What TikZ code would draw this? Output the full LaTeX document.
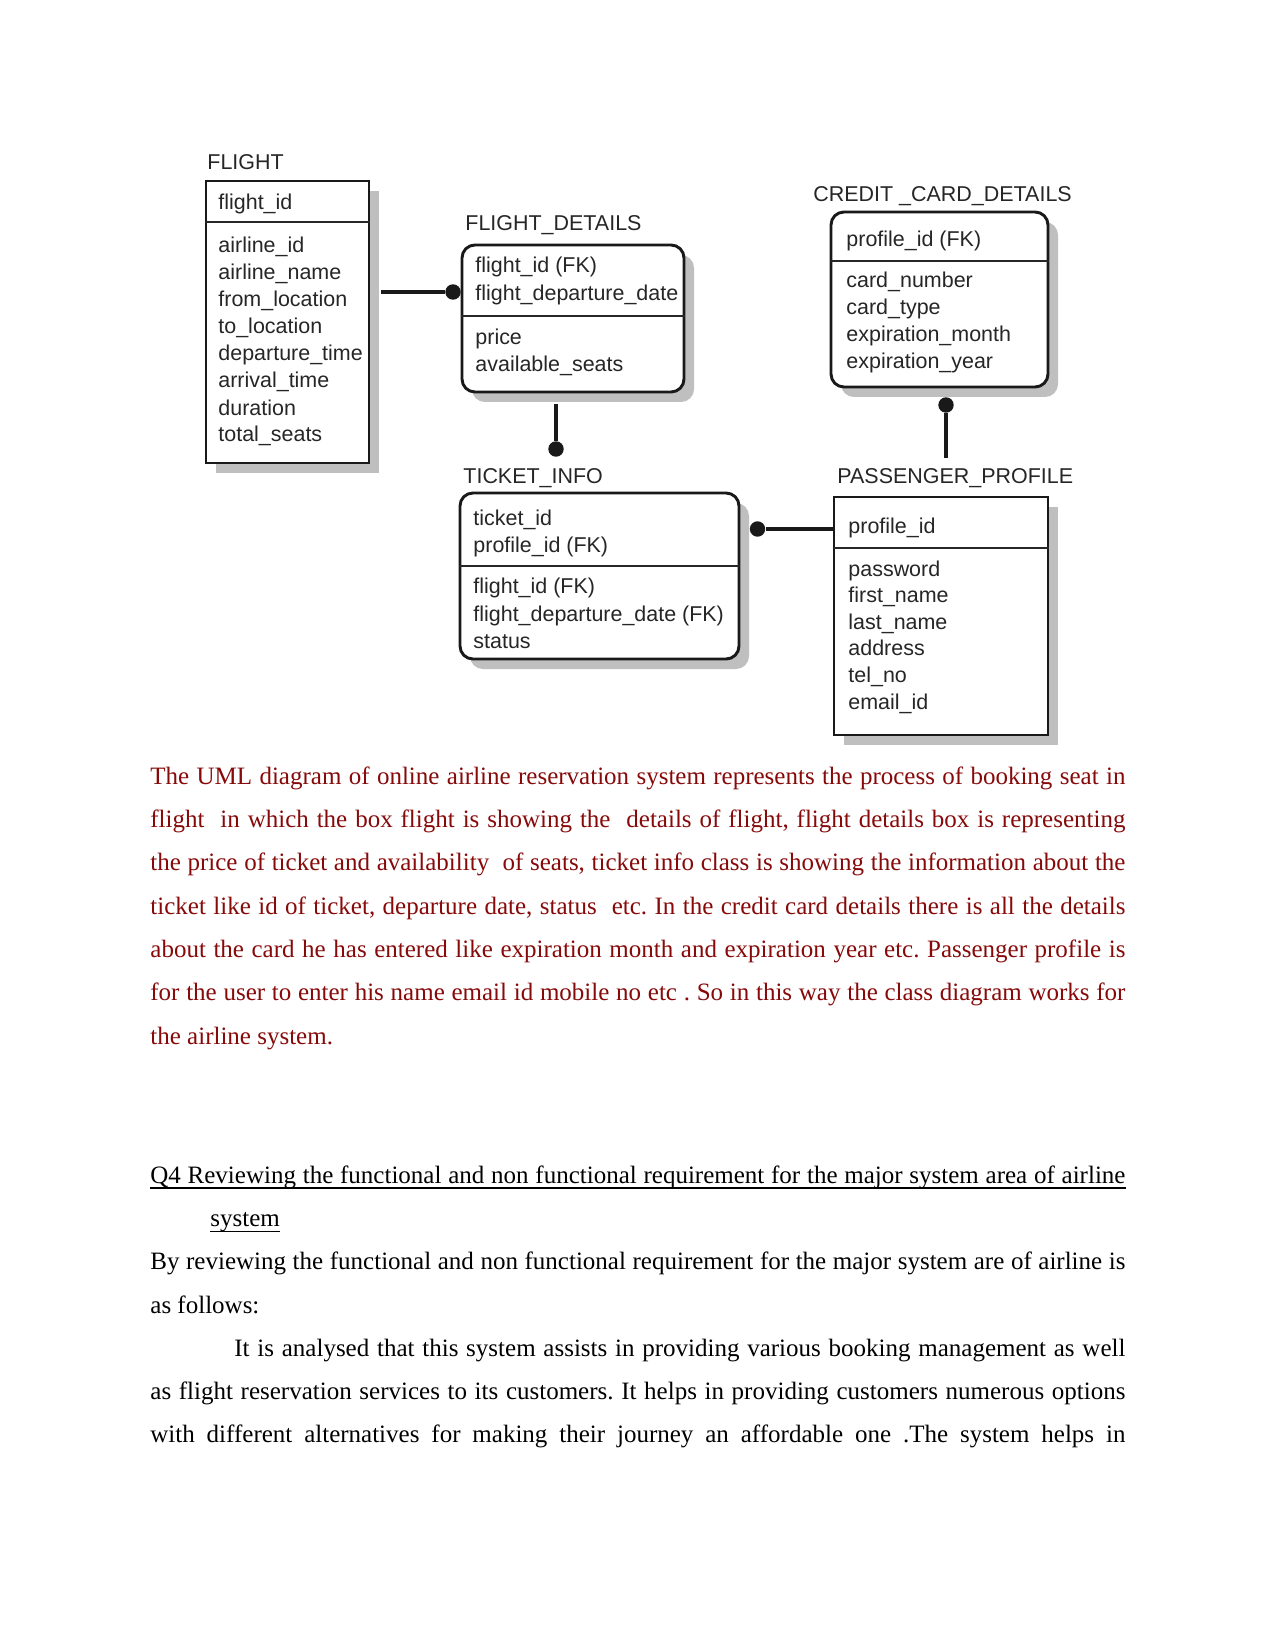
\documentclass[tikz,border=0pt]{standalone}
\usepackage{fontspec}
\setmainfont{Liberation Serif}
\newfontfamily\dia{Liberation Sans}
\usetikzlibrary{shadows,calc}
\definecolor{txtred}{RGB}{135,10,10}
\begin{document}
\begin{tikzpicture}[x=0.48pt,y=-0.48pt,
  ent/.style={draw=black!90, line width=1.4pt, fill=white, inner sep=0pt,
    drop shadow={shadow xshift=4.8pt, shadow yshift=-4.8pt, fill=black!25, opacity=1}},
  rnd/.style={rounded corners=6.2pt},
  sep/.style={draw=black!85, line width=1pt},
  lbl/.style={anchor=base west, inner sep=0pt, font=\dia\fontsize{10.3}{12}\selectfont, text=black!85},
  conn/.style={line width=1.7pt, black!90},
  dotn/.style={circle, fill=black!90, minimum size=7.4pt, inner sep=0pt},
  para/.style={anchor=base west, inner sep=0pt, font=\fontsize{12}{14}\selectfont\frenchspacing},
  redp/.style={para, text=txtred},
  blkp/.style={para, text=black}
]
\useasboundingbox[fill=white] (0,0) rectangle (1275,1650);

% ---------- entity boxes ----------
\node[ent, minimum width=78.24pt, minimum height=135.36pt] (flight) at (287.5,322) {};
\node[ent, rnd, minimum width=106.56pt, minimum height=70.56pt] (fd) at (573,318.5) {};
\node[ent, rnd, minimum width=104.16pt, minimum height=84pt] (ccd) at (939.5,299.5) {};
\node[ent, rnd, minimum width=133.92pt, minimum height=79.68pt] (ti) at (599.5,576) {};
\node[ent, minimum width=102.72pt, minimum height=114.24pt] (pp) at (941,616) {};

% separators
\draw[sep] (flight.west |- 0,222) -- (flight.east |- 0,222);
\draw[sep] (fd.west |- 0,316) -- (fd.east |- 0,316);
\draw[sep] (ccd.west |- 0,261) -- (ccd.east |- 0,261);
\draw[sep] (ti.west |- 0,566) -- (ti.east |- 0,566);
\draw[sep] (pp.west |- 0,548) -- (pp.east |- 0,548);

% ---------- titles ----------
\node[lbl] (tflight) at (207,170) {FLIGHT};
\node[lbl] (tfd) at (465,231) {FLIGHT\_DETAILS};
\node[lbl] (tccd) at (813,202) {CREDIT \_CARD\_DETAILS};
\node[lbl] (tti) at (463,483) {TICKET\_INFO};
\node[lbl] (tpp) at (837,483) {PASSENGER\_PROFILE};

% ---------- attributes ----------
\node[lbl] (f0) at (218,210) {flight\_id};
\foreach \t [count=\i from 0] in {airline\_id, airline\_name, from\_location, to\_location, departure\_time, arrival\_time, duration, total\_seats}
  \node[lbl] (fa\i) at (218,253+27*\i) {\t};

\node[lbl] (fd1) at (475,273) {flight\_id (FK)};
\node[lbl] (fd2) at (475,301) {flight\_departure\_date};
\node[lbl] (fd3) at (475,345) {price};
\node[lbl] (fd4) at (475,372) {available\_seats};

\node[lbl] (cc0) at (846,247) {profile\_id (FK)};
\foreach \t [count=\i from 0] in {card\_number, card\_type, expiration\_month, expiration\_year}
  \node[lbl] (cc\i a) at (846,288+26.7*\i) {\t};

\node[lbl] (ti1) at (473,525) {ticket\_id};
\node[lbl] (ti2) at (473,552) {profile\_id (FK)};
\node[lbl] (ti3) at (473,593) {flight\_id (FK)};
\node[lbl] (ti4) at (473,621) {flight\_departure\_date (FK)};
\node[lbl] (ti5) at (473,648) {status};

\node[lbl] (pp0) at (848,533) {profile\_id};
\foreach \t [count=\i from 0] in {password, first\_name, last\_name, address, tel\_no, email\_id}
  \node[lbl] (pa\i) at (848,576+26.6*\i) {\t};

% ---------- connectors ----------
\node[dotn] (d1) at (453,292) {};
\draw[conn] ($(flight.east |- d1)+(11,0)$) -- (d1);
\node[dotn] (d2) at (556,449) {};
\draw[conn] ($(d2 |- fd.south)+(0,11)$) -- (d2);
\node[dotn] (d3) at (946,405) {};
\coordinate (c3) at (946,458);
\draw[conn] (d3) -- (c3);
\node[dotn] (d4) at (757.5,529) {};
\draw[conn] (d4) -- (d4 -| pp.west);

% ---------- paragraph ----------
\node[redp] (p1) at (150,784.3) {\makebox[468pt][s]{The UML diagram of online airline reservation system represents the process of booking seat in}};
\node[redp] (p2) at (150,827.6) {\makebox[468pt][s]{flight\ \ in which the box flight is showing the\ \ details of flight, flight details box is representing}};
\node[redp] (p3) at (150,870.9) {\makebox[468pt][s]{the price of ticket and availability\ \ of seats, ticket info class is showing the information about the}};
\node[redp] (p4) at (150,914.2) {\makebox[468pt][s]{ticket like id of ticket, departure date, status\ \ etc. In the credit card details there is all the details}};
\node[redp] (p5) at (150,957.5) {\makebox[468pt][s]{about the card he has entered like expiration month and expiration year etc. Passenger profile is}};
\node[redp] (p6) at (150,1000.8) {\makebox[468pt][s]{for the user to enter his name email id mobile no etc . So in this way the class diagram works for}};
\node[redp] (p7) at (150,1044) {the airline system.};

% ---------- section ----------
\node[blkp] (q4) at (150,1183.5) {\makebox[468pt][s]{Q4 Reviewing the functional and non functional requirement for the major system area of airline}};
\draw[line width=0.6pt] ($(q4.base west)+(0,4.5)$) -- ($(q4.base east)+(0,4.5)$);
\node[blkp] (sys) at (210,1226.7) {system};
\draw[line width=0.6pt] ($(sys.base west)+(0,4.5)$) -- ($(sys.base east)+(0,4.5)$);
\node[blkp] (b1) at (150,1269.9) {\makebox[468pt][s]{By reviewing the functional and non functional requirement for the major system are of airline is}};
\node[blkp] (b2) at (150,1313.1) {as follows:};
\node[blkp] (b3) at (234,1356.3) {\makebox[427.68pt][s]{It is analysed that this system assists in providing various booking management as well}};
\node[blkp] (b4) at (150,1399.5) {\makebox[468pt][s]{as flight reservation services to its customers. It helps in providing customers numerous options}};
\node[blkp] (b5) at (150,1442.7) {\makebox[468pt][s]{with different alternatives for making their journey an affordable one .The system helps in}};
\end{tikzpicture}
\end{document}
